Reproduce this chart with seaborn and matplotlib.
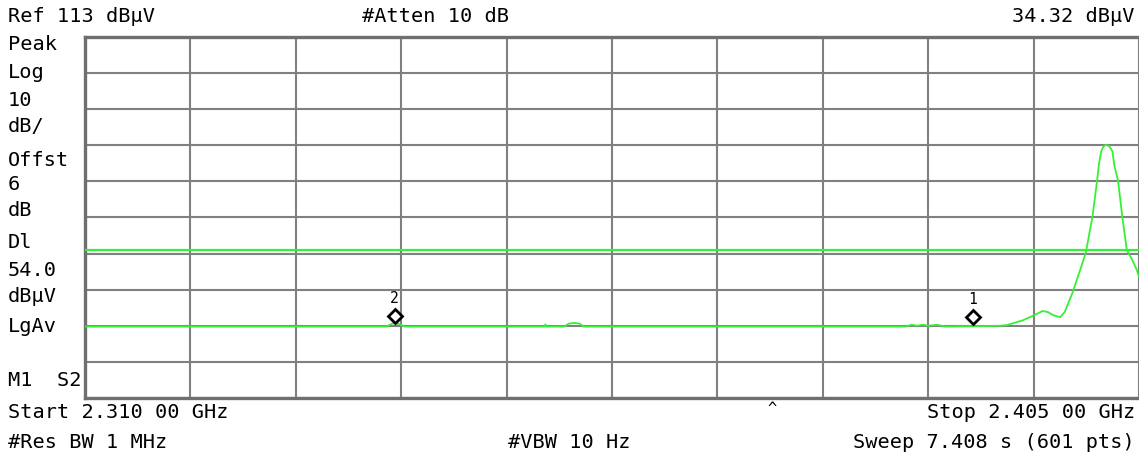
import numpy as np
import pandas as pd
import matplotlib
matplotlib.use("Agg")
import matplotlib.pyplot as plt
import matplotlib.transforms as mtransforms
import seaborn as sns

# ---------------- data ----------------
start_ghz = 2.310
stop_ghz = 2.405
ref_level = 113.0
db_per_div = 10.0
display_line = 54.0

freq_ghz = [2.3100, 2.3372, 2.3376, 2.3379, 2.3383, 2.3388,
            2.3514, 2.3515, 2.3516,
            2.3532, 2.3536, 2.3541, 2.3546, 2.3549,
            2.3840, 2.3845, 2.3850, 2.3855, 2.3860, 2.3868, 2.3875,
            2.3925, 2.3931, 2.3946, 2.3956, 2.3963, 2.3968, 2.3973,
            2.3979, 2.3983, 2.3990, 2.3997, 2.4002, 2.4008, 2.4012,
            2.4014, 2.4016, 2.4018, 2.4020, 2.4023, 2.4026, 2.4028,
            2.4031, 2.4035, 2.4039, 2.4044, 2.4048, 2.4050]
level_dbuv = [32.8, 32.8, 33.5, 33.8, 33.5, 32.8,
              32.8, 33.4, 32.8,
              32.8, 33.6, 33.8, 33.6, 32.8,
              32.8, 33.3, 33.0, 33.3, 33.0, 33.3, 32.8,
              33.0, 33.2, 34.6, 36.0, 37.1, 36.8, 35.9,
              35.4, 36.8, 42.1, 48.5, 53.2, 63.1, 72.6,
              78.0, 81.4, 82.7, 83.1, 82.8, 81.4, 77.0,
              73.4, 63.1, 54.0, 51.2, 48.5, 46.5]

marker_ids = ["1", "2"]
marker_freq_ghz = [2.3900, 2.3379]
marker_level_dbuv = [34.32, 34.6]

top_left_texts = ["Ref 113 dBµV", "#Atten 10 dB"]
top_right_text = "34.32 dBµV"
side_labels = ["Peak", "Log", "10", "dB/", "Offst", "6", "dB",
               "Dl", "54.0", "dBµV", "LgAv", "M1  S2"]
bottom_texts = ["Start 2.310 00 GHz", "Stop 2.405 00 GHz",
                "#Res BW 1 MHz", "#VBW 10 Hz", "Sweep 7.408 s (601 pts)"]

# ---------------- style ----------------
sns.set_theme(style="white")
plt.rcParams["font.family"] = ["DejaVu Sans Mono", "DejaVu Sans"]

W, H = 1139, 457
fig = plt.figure(figsize=(W / 100, H / 100), dpi=100)
fig.patch.set_facecolor("white")

ax_l, ax_r, ax_t, ax_b = 85, 1139, 37, 398
ax = fig.add_axes([ax_l / W, 1 - ax_b / H, (ax_r - ax_l) / W, (ax_b - ax_t) / H])
ax.set_facecolor("white")

green = "#33f233"
grid_col = "#808080"
spine_col = "#6f6f6f"

bottom_level = ref_level - 10 * db_per_div
ax.set_xlim(start_ghz, stop_ghz)
ax.set_ylim(bottom_level, ref_level)
ax.set_xticks(np.linspace(start_ghz, stop_ghz, 11))
ax.set_yticks(np.linspace(bottom_level, ref_level, 11))
ax.tick_params(axis="both", length=0, labelbottom=False, labelleft=False)
ax.grid(True, color=grid_col, linewidth=1.5, zorder=0)
ax.set_axisbelow(True)
for side in ["left", "top", "bottom"]:
    ax.spines[side].set_color(spine_col)
    ax.spines[side].set_linewidth(2.4)
ax.spines["right"].set_visible(False)

trace = pd.DataFrame({"freq": freq_ghz, "level": level_dbuv})
sns.lineplot(data=trace, x="freq", y="level", ax=ax, color=green,
             linewidth=1.3, sort=False, estimator=None, zorder=3)
dl = pd.DataFrame({"freq": [start_ghz, stop_ghz], "level": [display_line, display_line]})
sns.lineplot(data=dl, x="freq", y="level", ax=ax, color=green,
             linewidth=1.6, estimator=None, zorder=3)
ax.set_xlabel("")
ax.set_ylabel("")

off = mtransforms.offset_copy(ax.transData, fig=fig, x=0, y=4, units="dots")
off_lbl = mtransforms.offset_copy(ax.transData, fig=fig, x=0, y=22, units="dots")
for mid, mf, ml in zip(marker_ids, marker_freq_ghz, marker_level_dbuv):
    ax.plot([mf], [ml], marker="D", markersize=7.5, markerfacecolor="white",
            markeredgecolor="black", markeredgewidth=2.0, transform=off,
            zorder=5, clip_on=False)
    ax.text(mf, ml, mid, transform=off_lbl, ha="center", va="center",
            fontsize=10.5, color="black", zorder=5)

def ftext(x, y, s, ha="left", size=14.6):
    fig.text(x / W, 1 - y / H, s, ha=ha, va="center", fontsize=size, color="black")

ftext(8, 16, top_left_texts[0])
ftext(362, 16, top_left_texts[1])
ftext(1134, 16, top_right_text, ha="right")

side_y = [45, 73, 100, 127, 160, 184, 211, 243, 270, 296, 327, 381]
for s, y in zip(side_labels, side_y):
    ftext(8, y, s)

ftext(8, 413, bottom_texts[0])
ftext(1135, 413, bottom_texts[1], ha="right")
ftext(8, 443, bottom_texts[2])
ftext(508, 443, bottom_texts[3])
ftext(1135, 443, bottom_texts[4], ha="right")
ftext(772, 408, "^", ha="center", size=11)

fig.savefig("out.png", dpi=100, facecolor="white")
